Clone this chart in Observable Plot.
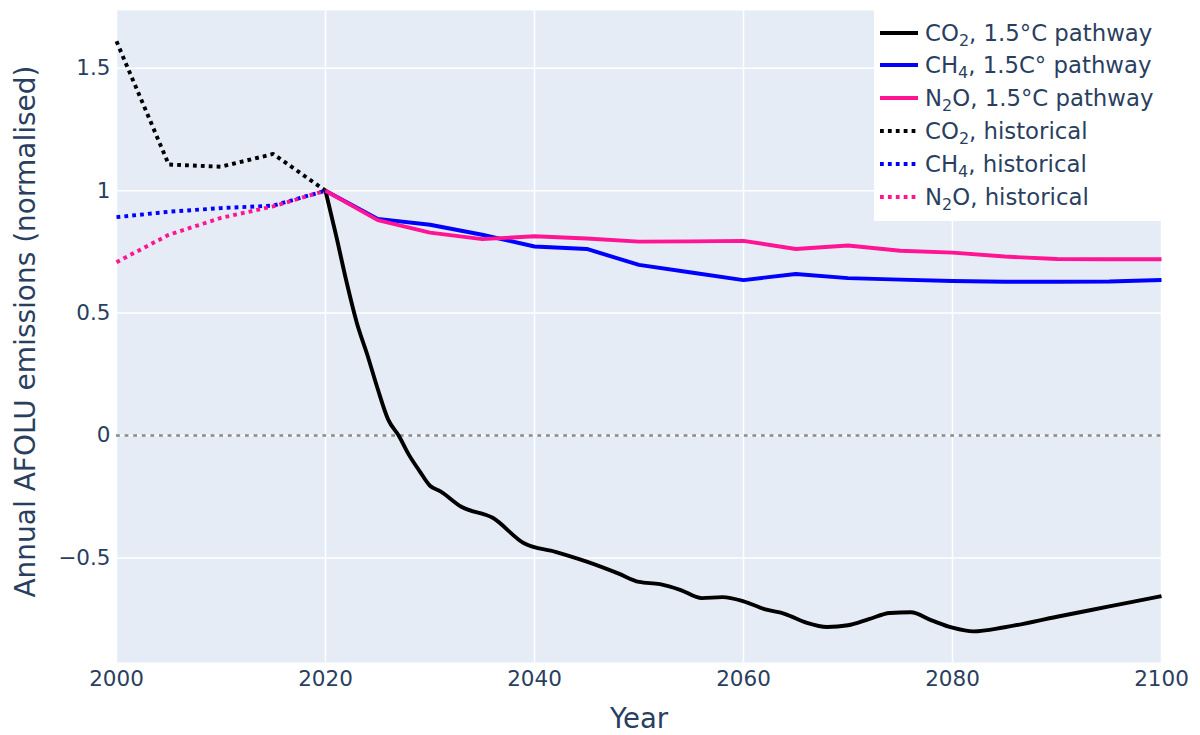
<!DOCTYPE html>
<html>
<head>
<meta charset="utf-8">
<script src="https://cdn.jsdelivr.net/npm/d3@7"></script>
<script src="https://cdn.jsdelivr.net/npm/@observablehq/plot@0.6"></script>
<style>
  body { margin: 0; background: #fff; font-family: "DejaVu Sans", Verdana, sans-serif; }
  #wrap { position: relative; width: 1200px; height: 735px; }
  #legend { position: absolute; left: 874px; top: 10px; width: 290px; height: 211px; background: #fff; color: #2a3f5f; font-size: 22.8px; }
  .row { position: absolute; left: 0; height: 33px; display: flex; align-items: center; white-space: nowrap; }
  .row svg { margin-left: 6px; margin-right: 7px; }
  .row sub { font-size: 70%; vertical-align: -0.3em; line-height: 0; }
</style>
</head>
<body>
<div id="wrap"></div>
<script>
// ---- data ----
const histYears = [2000, 2005, 2010, 2015, 2020];
const co2Hist = [1.61, 1.107, 1.098, 1.15, 1.0];
const ch4Hist = [0.892, 0.914, 0.929, 0.939, 1.0];
const n2oHist = [0.708, 0.82, 0.889, 0.936, 1.0];

const pathYears = [2020, 2025, 2030, 2035, 2040, 2045, 2050, 2055, 2060, 2065, 2070, 2075, 2080, 2085, 2090, 2095, 2100];
const ch4Path = [1.0, 0.885, 0.861, 0.82, 0.772, 0.762, 0.697, 0.666, 0.635, 0.66, 0.643, 0.637, 0.631, 0.628, 0.628, 0.629, 0.635];
const n2oPath = [1.0, 0.88, 0.829, 0.802, 0.814, 0.805, 0.792, 0.793, 0.795, 0.762, 0.776, 0.755, 0.747, 0.731, 0.721, 0.72, 0.72];

const co2Years = [2020, 2021, 2022, 2023, 2024, 2025, 2026, 2027, 2028, 2029, 2030, 2031, 2033, 2036, 2039, 2042, 2045, 2048, 2050, 2052, 2054, 2056, 2058, 2060, 2062, 2064, 2066, 2068, 2070, 2072, 2074, 2076, 2078, 2080, 2082, 2085, 2090, 2095, 2100];
const co2Path = [1.0, 0.82, 0.63, 0.46, 0.33, 0.19, 0.065, 0.0, -0.08, -0.145, -0.205, -0.228, -0.291, -0.336, -0.44, -0.475, -0.515, -0.563, -0.598, -0.607, -0.631, -0.664, -0.66, -0.677, -0.709, -0.729, -0.764, -0.782, -0.775, -0.75, -0.725, -0.722, -0.755, -0.785, -0.8, -0.783, -0.74, -0.698, -0.656];

const xTicks = [2000, 2020, 2040, 2060, 2080, 2100];
const yTicks = [-0.5, 0, 0.5, 1, 1.5];

const seriesLabels = [
  "CO<sub>2</sub>, 1.5°C pathway",
  "CH<sub>4</sub>, 1.5C° pathway",
  "N<sub>2</sub>O, 1.5°C pathway",
  "CO<sub>2</sub>, historical",
  "CH<sub>4</sub>, historical",
  "N<sub>2</sub>O, historical"
];
const seriesColors = ["#000000", "#0000ff", "#ff1493", "#000000", "#0000ff", "#ff1493"];
const seriesDashed = [false, false, false, true, true, true];

// ---- build tables ----
const toRows = (xs, ys) => xs.map((x, i) => ({year: x, value: ys[i]}));
const seriesData = [
  toRows(co2Years, co2Path),
  toRows(pathYears, ch4Path),
  toRows(pathYears, n2oPath),
  toRows(histYears, co2Hist),
  toRows(histYears, ch4Hist),
  toRows(histYears, n2oHist)
];

const fmtY = d => d === 0 ? "0" : (d < 0 ? "\u2212" + Math.abs(d) : String(d));

const lineMarks = seriesData.map((rows, i) => Plot.line(rows, {
  x: "year", y: "value",
  stroke: seriesColors[i],
  strokeWidth: 3.9,
  strokeLinecap: "butt",
  strokeDasharray: seriesDashed[i] ? "3.8,4.1" : null,
  curve: i === 0 ? "monotone-x" : "linear"
}));

const chart = Plot.plot({
  width: 1200,
  height: 735,
  marginLeft: 116,
  marginRight: 39,
  marginTop: 10,
  marginBottom: 73,
  style: {fontFamily: "'DejaVu Sans', Verdana, sans-serif", fontSize: "21.5px", color: "#2a3f5f", background: "#fff", overflow: "visible"},
  x: {domain: [2000, 2100]},
  y: {domain: [-0.927, 1.736]},
  marks: [
    Plot.frame({fill: "#e5ecf6", stroke: "none"}),
    Plot.gridX(xTicks, {stroke: "#fff", strokeOpacity: 1, strokeWidth: 1.5}),
    Plot.gridY(yTicks, {stroke: "#fff", strokeOpacity: 1, strokeWidth: 1.5}),
    Plot.ruleY([0], {stroke: "#8a8a8a", strokeWidth: 2.5, strokeDasharray: "3.8,4.8", strokeLinecap: "butt"}),
    ...lineMarks,
    Plot.axisX(xTicks, {tickSize: 0, tickPadding: 8, tickFormat: d => String(d), label: null, fontSize: 21.5}),
    Plot.axisY(yTicks, {tickSize: 0, tickPadding: 6, tickFormat: fmtY, label: null, fontSize: 21.5}),
    Plot.text(["Year"], {frameAnchor: "bottom", dy: 57, fontSize: 27.5, lineAnchor: "middle", textAnchor: "middle"}),
    Plot.text(["Annual AFOLU emissions (normalised)"], {frameAnchor: "left", dx: -90, dy: -5, rotate: -90, fontSize: 28, lineAnchor: "middle", textAnchor: "middle"})
  ]
});

const wrap = document.getElementById("wrap");
wrap.appendChild(chart);

// ---- legend overlay ----
const legend = document.createElement("div");
legend.id = "legend";
seriesLabels.forEach((lab, i) => {
  const row = document.createElement("div");
  row.className = "row";
  row.style.top = (6 + i * 32.8) + "px";
  const dash = seriesDashed[i] ? ' stroke-dasharray="3.8,4.1"' : "";
  row.innerHTML = `<svg width="38" height="10"><line x1="0" y1="5" x2="38" y2="5" stroke="${seriesColors[i]}" stroke-width="3.9"${dash}/></svg><span>${lab}</span>`;
  legend.appendChild(row);
});
wrap.appendChild(legend);
</script>
</body>
</html>
